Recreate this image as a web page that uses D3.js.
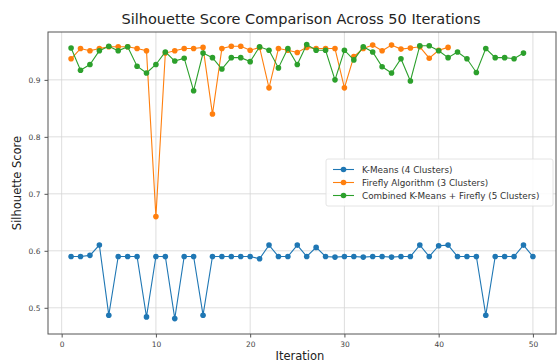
<!DOCTYPE html>
<html>
<head>
<meta charset="utf-8">
<script src="https://cdn.jsdelivr.net/npm/d3@7"></script>
<style>
  body { margin: 0; background: #fff; }
  svg { font-family: "DejaVu Sans", sans-serif; }
</style>
</head>
<body>
<svg width="557" height="363"></svg>
<script>
// data
var kmeans = [0.590,0.590,0.592,0.610,0.487,0.590,0.590,0.590,0.484,0.590,
	0.590,0.481,0.590,0.590,0.487,0.590,0.590,0.590,0.590,0.590,
	0.586,0.610,0.590,0.590,0.610,0.590,0.606,0.590,0.589,0.590,
	0.590,0.589,0.590,0.590,0.589,0.590,0.590,0.610,0.590,0.609,
	0.610,0.590,0.590,0.590,0.487,0.590,0.590,0.590,0.610,0.590];
var firefly = [0.937,0.955,0.951,0.955,0.958,0.958,0.958,0.955,0.951,0.660,
	0.947,0.951,0.955,0.955,0.957,0.840,0.955,0.959,0.959,0.952,
	0.957,0.886,0.955,0.952,0.948,0.957,0.955,0.955,0.955,0.886,
	0.941,0.955,0.961,0.951,0.961,0.954,0.956,0.958,0.938,0.952,
	0.957];
var combined = [0.956,0.917,0.927,0.951,0.959,0.951,0.958,0.924,0.912,0.927,
	0.949,0.933,0.938,0.881,0.947,0.939,0.919,0.939,0.939,0.932,
	0.958,0.952,0.921,0.955,0.927,0.962,0.952,0.952,0.900,0.952,
	0.935,0.958,0.949,0.923,0.912,0.937,0.898,0.960,0.960,0.951,
	0.939,0.949,0.937,0.913,0.955,0.939,0.939,0.937,0.947];
var seriesNames = ["K-Means (4 Clusters)", "Firefly Algorithm (3 Clusters)", "Combined K-Means + Firefly (5 Clusters)"];
var seriesColors = ["#1f77b4", "#ff7f0e", "#2ca02c"];
var xTicks = [0, 10, 20, 30, 40, 50];
var yTicks = [0.5, 0.6, 0.7, 0.8, 0.9];

var svg = d3.select("svg"),
	margin = {top: 32, right: 1, bottom: 29, left: 48},
	width = 557 - margin.left - margin.right,
	height = 363 - margin.top - margin.bottom;

var x = d3.scaleLinear().domain([-1.45, 52.45]).range([0, width]),
	y = d3.scaleLinear().domain([0.454, 0.984]).range([height, 0]);

var g = svg.append("g")
	.attr("transform", "translate(" + margin.left + "," + margin.top + ")");

// grid
g.append("g").selectAll("line").data(xTicks).enter().append("line")
	.attr("x1", function(d){ return x(d); }).attr("x2", function(d){ return x(d); })
	.attr("y1", 0).attr("y2", height)
	.attr("stroke", "#d5d5d5").attr("stroke-width", 0.8);
g.append("g").selectAll("line").data(yTicks).enter().append("line")
	.attr("y1", function(d){ return y(d); }).attr("y2", function(d){ return y(d); })
	.attr("x1", 0).attr("x2", width)
	.attr("stroke", "#d5d5d5").attr("stroke-width", 0.8);

// axes
var xAxis = g.append("g")
	.attr("transform", "translate(0," + height + ")")
	.call(d3.axisBottom(x).tickValues(xTicks).tickSize(3.5).tickPadding(4).tickFormat(d3.format("d")));
var yAxis = g.append("g")
	.call(d3.axisLeft(y).tickValues(yTicks).tickSize(3.5).tickPadding(4).tickFormat(d3.format(".1f")));
[xAxis, yAxis].forEach(function(a){
	a.select(".domain").remove();
	a.selectAll("line").attr("stroke", "#555");
	a.selectAll("text").attr("font-size", 7.5).attr("fill", "#444").attr("font-family", "DejaVu Sans");
});

// frame
g.append("rect")
	.attr("width", width).attr("height", height)
	.attr("fill", "none").attr("stroke", "#555").attr("stroke-width", 1);

var line = d3.line()
	.x(function(d, i){ return x(i + 1); })
	.y(function(d){ return y(d); });

[kmeans, firefly, combined].forEach(function(vals, k){
	var s = g.append("g");
	s.append("path").datum(vals)
		.attr("d", line).attr("fill", "none")
		.attr("stroke", seriesColors[k]).attr("stroke-width", 1.1);
	s.selectAll("circle").data(vals).enter().append("circle")
		.attr("cx", function(d, i){ return x(i + 1); })
		.attr("cy", function(d){ return y(d); })
		.attr("r", 2.8)
		.attr("fill", seriesColors[k]);
});

// legend
var leg = g.append("g").attr("transform", "translate(" + (326 - margin.left) + "," + (159 - margin.top) + ")");
leg.append("rect")
	.attr("width", 227).attr("height", 47).attr("rx", 2)
	.attr("fill", "#fff").attr("fill-opacity", 0.85)
	.attr("stroke", "#ddd").attr("stroke-width", 0.8);
seriesNames.forEach(function(name, k){
	var row = leg.append("g").attr("transform", "translate(0," + (10.5 + k * 13) + ")");
	row.append("line").attr("x1", 7).attr("x2", 28)
		.attr("stroke", seriesColors[k]).attr("stroke-width", 1.1);
	row.append("circle").attr("cx", 17.5).attr("r", 2.8).attr("fill", seriesColors[k]);
	row.append("text").attr("x", 36).attr("dy", "0.35em")
		.attr("font-size", 8.8).attr("fill", "#333").text(name);
});

// labels
svg.append("text")
	.attr("x", margin.left + width / 2 - 1).attr("y", 24)
	.attr("text-anchor", "middle").attr("font-size", 14.5).attr("fill", "#222")
	.text("Silhouette Score Comparison Across 50 Iterations");
svg.append("text")
	.attr("x", margin.left + width / 2 - 2).attr("y", 360)
	.attr("text-anchor", "middle").attr("font-size", 11.5).attr("fill", "#222")
	.text("Iteration");
svg.append("text")
	.attr("transform", "translate(21," + (margin.top + height / 2) + ") rotate(-90)")
	.attr("text-anchor", "middle").attr("font-size", 11.5).attr("fill", "#222")
	.text("Silhouette Score");
</script>
</body>
</html>
